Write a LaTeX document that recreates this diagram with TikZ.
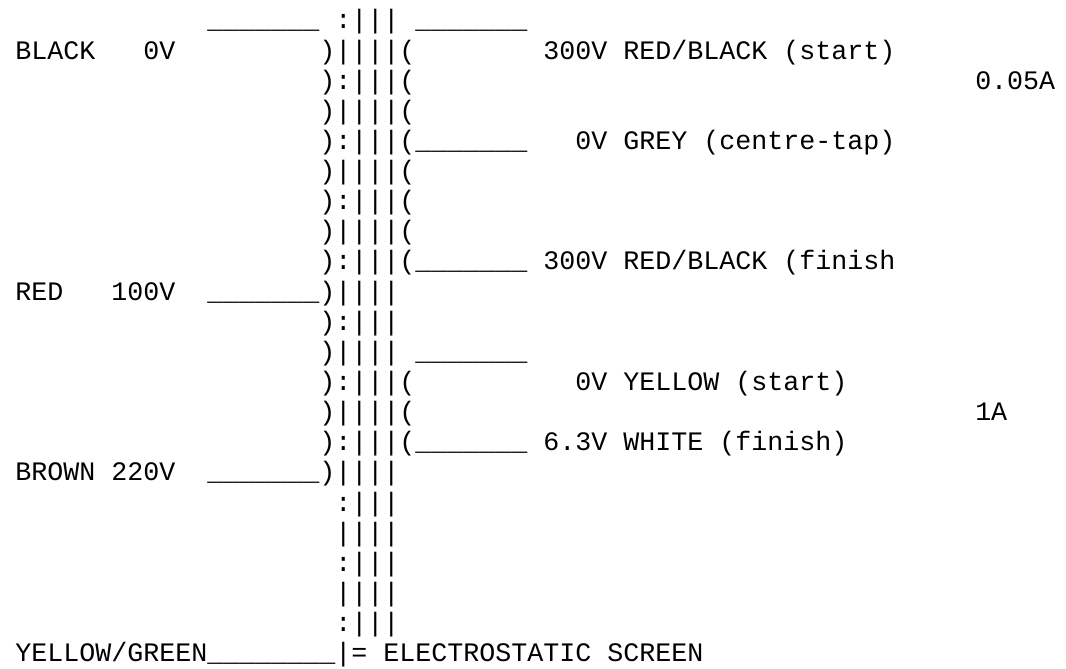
\documentclass[tikz,border=0pt]{standalone}
\usepackage{fontspec}
\setmonofont{Liberation Mono}

\newcommand{\lead}{\_\_\_\_\_\_\_}

\begin{document}
\begin{tikzpicture}[x=12pt,y=-22.6pt,
   ascii/.style={anchor=base west,inner sep=0pt,font=\ttfamily\fontsize{20}{22}\selectfont}]
   \useasboundingbox (-0.94,0.04) rectangle (65.69,22.24);
   % core with screen
   \foreach \r in {1,...,21}
      \node[ascii] (core\r) at (20,\r) {\ifodd\r :\else |\fi|||};
   \foreach \r in {2,...,16}
      \node[ascii] (pri\r) at (19,\r) {)};
   \foreach \r in {2,...,9,13,14,15}
      \node[ascii] (sec\r) at (24,\r) {(};
   % primary
   \node[ascii] (topl)   at (12,1)  {\lead};
   \node[ascii] (black)  at (0,2)   {BLACK};
   \node[ascii] (blackv) at (8,2)   {0V};
   \node[ascii] (red)    at (0,10)  {RED};
   \node[ascii] (redv)   at (6,10)  {100V};
   \node[ascii] (redl)   at (12,10) {\lead};
   \node[ascii] (brown)  at (0,16)  {BROWN};
   \node[ascii] (brownv) at (6,16)  {220V};
   \node[ascii] (brownl) at (12,16) {\lead};
   % high tension winding
   \node[ascii] (topr)   at (25,1)  {\lead};
   \node[ascii] (hts)    at (33,2)  {300V RED/BLACK (start)};
   \node[ascii] (hta)    at (60,3)  {0.05A};
   \node[ascii] (ctl)    at (25,5)  {\lead};
   \node[ascii] (ct)     at (35,5)  {0V GREY (centre-tap)};
   \node[ascii] (htfl)   at (25,9)  {\lead};
   \node[ascii] (htf)    at (33,9)  {300V RED/BLACK (finish};
   % heater winding
   \node[ascii] (hsl)    at (25,12) {\lead};
   \node[ascii] (hs)     at (35,13) {0V YELLOW (start)};
   \node[ascii] (ha)     at (60,14) {1A};
   \node[ascii] (hfl)    at (25,15) {\lead};
   \node[ascii] (hf)     at (33,15) {6.3V WHITE (finish)};
   % earth
   \node[ascii] (earth)  at (0,22)  {YELLOW/GREEN\lead\_};
   \node[ascii] (scr)    at (20,22) {|=};
   \node[ascii] (scrt)   at (23,22) {ELECTROSTATIC SCREEN};
\end{tikzpicture}
\end{document}
